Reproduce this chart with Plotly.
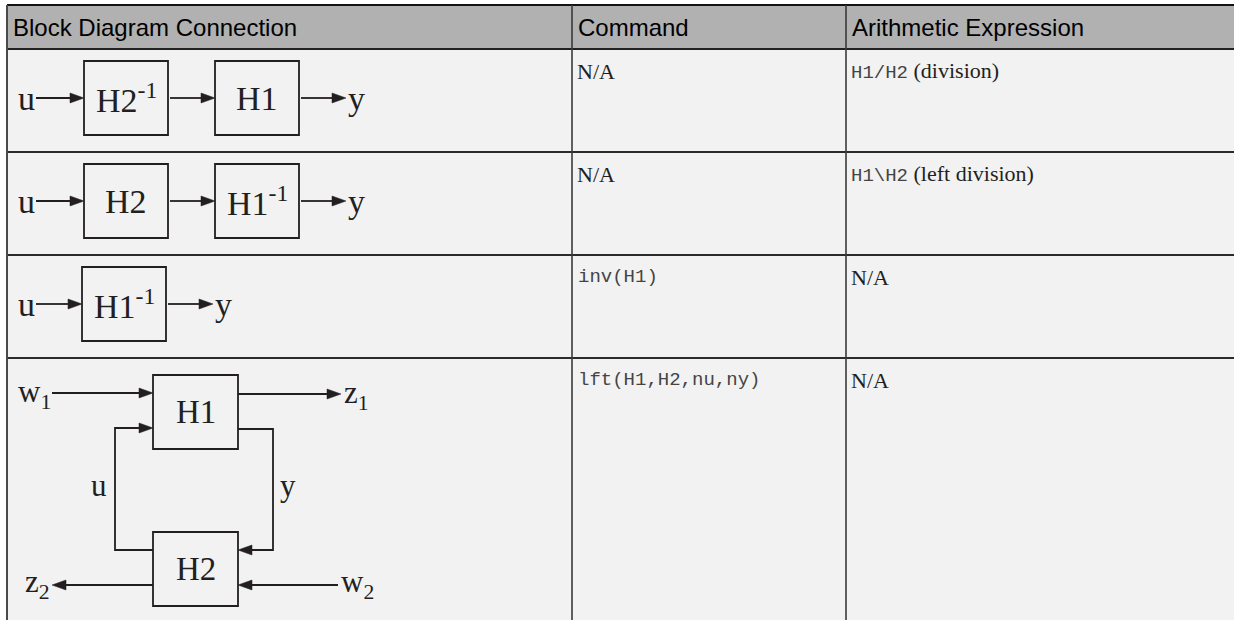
import plotly.graph_objects as go

# ---------------- data ----------------
headers = ["Block Diagram Connection", "Command", "Arithmetic Expression"]
commands = ["N/A", "N/A", "inv(H1)", "lft(H1,H2,nu,ny)"]
command_is_code = [False, False, True, True]
expr_code = ["H1/H2", "H1\\H2", "", ""]
expr_words = ["(division)", "(left division)", "N/A", "N/A"]
chain_blocks = [["H2<sup>-1</sup>", "H1"], ["H2", "H1<sup>-1</sup>"], ["H1<sup>-1</sup>"]]
chain_input = "u"
chain_output = "y"
lft_blocks = ["H1", "H2"]
lft_inputs = ["w<sub>1</sub>", "w<sub>2</sub>"]
lft_outputs = ["z<sub>1</sub>", "z<sub>2</sub>"]
lft_loop = ["u", "y"]

# ---------------- layout geometry ----------------
W, H = 1234, 620
col_x = [7, 572, 846, W]
row_y = [5, 49, 152, 255, 358, H]
HEADER_BG = "#b1b1b1"
BODY_BG = "#f2f2f2"
INK = "#231f20"
SERIF = "Liberation Serif, Times New Roman, serif"
SANS = "Liberation Sans, Arial, sans-serif"
MONO = "Liberation Mono, Courier New, monospace"
HEADER_SIZE = 24

chain_lefts = [[84, 215], [84, 215], [82]]
BLOCK_W, BLOCK_H = 84, 74
HEAD_L, HEAD_HW = 14, 5
LW = 1.8

fig = go.Figure()
shapes = []
annots = []


def rect(x0, y0, x1, y1, fill=None, color=INK, width=LW):
    shapes.append(dict(type="rect", xref="x", yref="y", x0=x0, y0=y0, x1=x1, y1=y1,
                       fillcolor=fill if fill else "rgba(0,0,0,0)",
                       line=dict(color=color, width=width)))


def line(x0, y0, x1, y1, color, width):
    shapes.append(dict(type="line", xref="x", yref="y", x0=x0, y0=y0, x1=x1, y1=y1,
                       line=dict(color=color, width=width)))


def arrow(points):
    """Polyline ending in a filled arrowhead at the last point."""
    (xa, ya), (xb, yb) = points[-2], points[-1]
    dx, dy = xb - xa, yb - ya
    n = (dx * dx + dy * dy) ** 0.5
    ux, uy = dx / n, dy / n
    bx, by = xb - ux * HEAD_L, yb - uy * HEAD_L
    pts = points[:-1] + [(bx, by)]
    path = "M " + " L ".join(f"{x},{y}" for x, y in pts)
    shapes.append(dict(type="path", xref="x", yref="y", path=path,
                       fillcolor="rgba(0,0,0,0)", line=dict(color=INK, width=LW)))
    px, py = -uy, ux
    tri = (f"M {xb},{yb} L {bx + px * HEAD_HW},{by + py * HEAD_HW} "
           f"L {bx - px * HEAD_HW},{by - py * HEAD_HW} Z")
    shapes.append(dict(type="path", xref="x", yref="y", path=tri,
                       fillcolor=INK, line=dict(color=INK, width=0.5)))


def text(x, y, s, size, family=SERIF, color=INK, xanchor="center", yanchor="middle"):
    annots.append(dict(x=x, y=y, xref="x", yref="y", text=s, showarrow=False,
                       xanchor=xanchor, yanchor=yanchor,
                       font=dict(family=family, size=size, color=color)))


# ---------------- table ----------------
rect(col_x[0], row_y[0], W + 5, row_y[1], fill=HEADER_BG, color=HEADER_BG, width=0)
rect(col_x[0], row_y[1], W + 5, H + 5, fill=BODY_BG, color=BODY_BG, width=0)
line(col_x[0], row_y[0], W, row_y[0], "#111111", 2.2)
line(col_x[0], row_y[1], W, row_y[1], "#222222", 2)
for yy in row_y[2:-1]:
    line(col_x[0], yy, W, yy, "#2b2b2b", 1.8)
line(col_x[0], row_y[0], col_x[0], H, "#4a4a4a", 2)
for xx in col_x[1:3]:
    line(xx, row_y[0], xx, H, "#3a3a3a", 1.6)

for i, h in enumerate(headers):
    text(col_x[i] + 4, (row_y[0] + row_y[1]) / 2, h, HEADER_SIZE, family=SANS,
         color="#000000", xanchor="left")

for r in range(4):
    top = row_y[r + 1]
    ty = top + 22
    if command_is_code[r]:
        text(col_x[1] + 4, ty, commands[r], 19, family=MONO, color="#444444", xanchor="left")
    else:
        text(col_x[1] + 3, ty, commands[r], 22, xanchor="left")
    if expr_code[r]:
        s = (f'<span style="font-family:{MONO};font-size:19px;fill:#444444">{expr_code[r]}</span>'
             f' {expr_words[r]}')
    else:
        s = expr_words[r]
    text(col_x[2] + 3, ty, s, 22, xanchor="left")

# ---------------- chain diagrams (rows 1-3) ----------------
for r, blocks in enumerate(chain_blocks):
    cy = (row_y[r + 1] + row_y[r + 2]) / 2 - 2.5
    lefts = chain_lefts[r]
    text(26, cy, chain_input, 34)
    prev_right = 36
    for j, lab in enumerate(blocks):
        x0 = lefts[j]
        arrow([(prev_right + (0 if j == 0 else 2), cy), (x0, cy)])
        rect(x0, cy - BLOCK_H / 2, x0 + BLOCK_W, cy + BLOCK_H / 2)
        text(x0 + BLOCK_W / 2, cy, lab, 34)
        prev_right = x0 + BLOCK_W
    arrow([(prev_right + 2, cy), (prev_right + 47, cy)])
    text(prev_right + 57, cy, chain_output, 34)

# ---------------- LFT diagram (row 4) ----------------
bx0, bx1 = 153, 238
h1_y0, h1_y1 = 375, 449
h2_y0, h2_y1 = 532, 606
rect(bx0, h1_y0, bx1, h1_y1)
rect(bx0, h2_y0, bx1, h2_y1)
text((bx0 + bx1) / 2, (h1_y0 + h1_y1) / 2, lft_blocks[0], 33)
text((bx0 + bx1) / 2, (h2_y0 + h2_y1) / 2, lft_blocks[1], 33)

arrow([(52, 393), (bx0, 393)])                      # w1 -> H1
arrow([(bx1, 394), (341, 394)])                     # H1 -> z1
arrow([(bx0, 550), (115, 550), (115, 428), (bx0, 428)])   # u loop
arrow([(bx1, 429), (273, 429), (273, 550), (bx1, 550)])   # y loop
arrow([(bx0, 585), (52, 585)])                      # H2 -> z2
arrow([(338, 585), (bx1, 585)])                     # w2 -> H2

text(34, 394, lft_inputs[0], 31)
text(356, 395, lft_outputs[0], 31)
text(37, 584, lft_outputs[1], 31)
text(357, 584, lft_inputs[1], 31)
text(99, 485, lft_loop[0], 31)
text(288, 485, lft_loop[1], 31)

fig.update_layout(
    width=W, height=H, margin=dict(l=0, r=0, t=0, b=0),
    paper_bgcolor="white", plot_bgcolor="white",
    xaxis=dict(range=[0, W], visible=False, fixedrange=True),
    yaxis=dict(range=[H, 0], visible=False, fixedrange=True),
    shapes=shapes, annotations=annots, showlegend=False,
)
fig.write_html("out.html", config={"displayModeBar": False},
               post_script="document.body.style.margin='0';"
                           "document.body.style.overflow='hidden';")
